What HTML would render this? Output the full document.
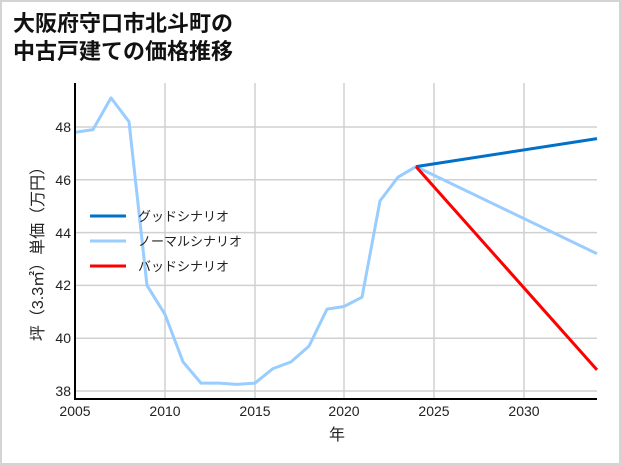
<!DOCTYPE html>
<html><head><meta charset="utf-8"><style>
body{margin:0;background:#fff}
svg{display:block;font-family:"Liberation Sans","Noto Sans CJK JP",sans-serif}
</style></head><body>
<svg width="621" height="465" xmlns="http://www.w3.org/2000/svg">
<rect x="1" y="1" width="619" height="463" fill="#fff" stroke="#d4d4d4" stroke-width="2"/>
<text x="13" y="31" font-size="22" font-weight="bold" fill="#111">大阪府守口市北斗町の</text>
<text x="13" y="59" font-size="22" font-weight="bold" fill="#111">中古戸建ての価格推移</text>
<g stroke="#d0d0d0" stroke-width="1.5">
<line x1="165" y1="83" x2="165" y2="399"/><line x1="255" y1="83" x2="255" y2="399"/>
<line x1="344" y1="83" x2="344" y2="399"/><line x1="434" y1="83" x2="434" y2="399"/>
<line x1="524" y1="83" x2="524" y2="399"/>
<line x1="75" y1="127" x2="597" y2="127"/><line x1="75" y1="179.8" x2="597" y2="179.8"/>
<line x1="75" y1="232.6" x2="597" y2="232.6"/><line x1="75" y1="285.4" x2="597" y2="285.4"/>
<line x1="75" y1="338.2" x2="597" y2="338.2"/><line x1="75" y1="391" x2="597" y2="391"/>
</g>
<g fill="none" stroke-width="3" stroke-linejoin="round">
<polyline stroke="#99ccff" points="75,132.3 93,129.6 111,97.9 129,121.7 147,285.4 165,314.4 183,361.9 201,383.1 219,383.1 237,384.4 255,383.1 273,368.6 291,361.9 309,346.1 327,309.1 344,306.5 362,297.2 380,200.9 398,177.2 416,166.6 597,253.7"/>
<polyline stroke="#0070c8" points="416,166.6 597,138.6"/>
<polyline stroke="#ff0000" points="416,166.6 597,369.9"/>
</g>
<line x1="75" y1="83" x2="75" y2="400" stroke="#000" stroke-width="2"/>
<line x1="74" y1="399" x2="597" y2="399" stroke="#000" stroke-width="2"/>
<g font-size="14" fill="#222" text-anchor="end">
<text x="71" y="132">48</text><text x="71" y="185">46</text><text x="71" y="238">44</text>
<text x="71" y="290">42</text><text x="71" y="343">40</text><text x="71" y="396">38</text>
</g>
<g font-size="14" fill="#222" text-anchor="middle">
<text x="75" y="416">2005</text><text x="165" y="416">2010</text><text x="255" y="416">2015</text>
<text x="344" y="416">2020</text><text x="434" y="416">2025</text><text x="524" y="416">2030</text>
<text x="337" y="440" font-size="16">年</text>
</g>
<text transform="translate(43,250) rotate(-90)" font-size="16" fill="#222" text-anchor="middle">坪（3.3㎡）単価（万円）</text>
<g stroke-width="3">
<line x1="90" y1="216" x2="126" y2="216" stroke="#0070c8"/>
<line x1="90" y1="241" x2="126" y2="241" stroke="#99ccff"/>
<line x1="90" y1="266" x2="126" y2="266" stroke="#ff0000"/>
</g>
<g font-size="13" fill="#222">
<text x="138" y="221">グッドシナリオ</text>
<text x="138" y="246">ノーマルシナリオ</text>
<text x="138" y="271">バッドシナリオ</text>
</g>
</svg>
</body></html>
